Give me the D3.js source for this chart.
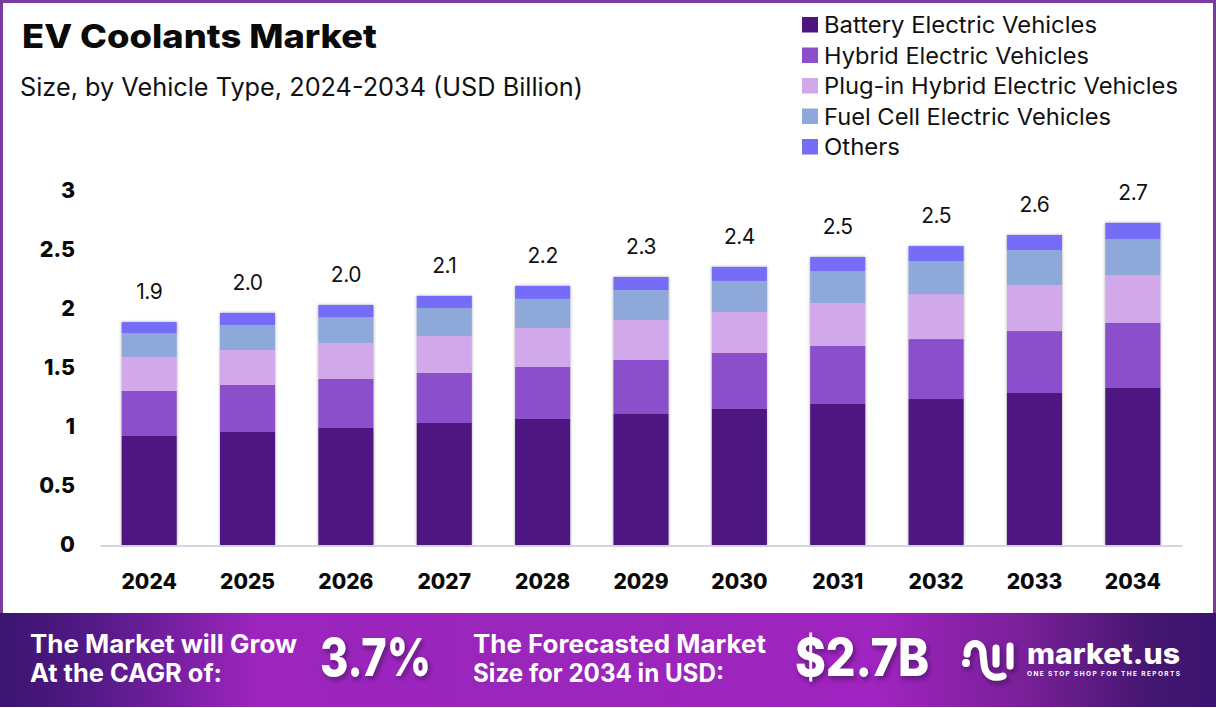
<!DOCTYPE html>
<html><head><meta charset="utf-8">
<script src="https://cdn.jsdelivr.net/npm/d3@7"></script>
<style>
html,body{margin:0;padding:0;background:#fff;overflow:hidden}
svg{display:block}
text{font-family:Inter,"Open Sans",sans-serif}
</style></head><body>
<svg id="c" width="1216" height="708"></svg>
<script>
const years=["2024","2025","2026","2027","2028","2029","2030","2031","2032","2033","2034"];
const seriesNames=["Battery Electric Vehicles","Hybrid Electric Vehicles","Plug-in Hybrid Electric Vehicles","Fuel Cell Electric Vehicles","Others"];
const colors=["#4e1580","#8b4fcb","#d1a8ea","#8ea8da","#746df8"];
const bev=[0.924,0.958,0.992,1.034,1.068,1.110,1.153,1.195,1.237,1.288,1.331];
const hev=[0.381,0.398,0.415,0.424,0.441,0.458,0.475,0.492,0.508,0.525,0.551];
const phev=[0.288,0.297,0.305,0.314,0.331,0.339,0.347,0.364,0.381,0.390,0.407];
const fcev=[0.203,0.212,0.220,0.237,0.246,0.254,0.263,0.271,0.280,0.297,0.305];
const others=[0.093,0.102,0.102,0.102,0.110,0.110,0.119,0.119,0.127,0.127,0.136];
const totalLabels=["1.9","2.0","2.0","2.1","2.2","2.3","2.4","2.5","2.5","2.6","2.7"];
const yTicks=[0,0.5,1,1.5,2,2.5,3];
const seriesValues=[bev,hev,phev,fcev,others];

const svg=d3.select("#c");
const defs=svg.append("defs");
const grad=defs.append("linearGradient").attr("id","band");
[[0,"#3b1470"],[0.08,"#541a88"],[0.21,"#9c25bd"],[0.5,"#9a26bb"],[0.72,"#a024c0"],[0.84,"#7a2099"],[0.95,"#42166f"],[1,"#3b1470"]]
  .forEach(d=>grad.append("stop").attr("offset",d[0]).attr("stop-color",d[1]));
const sh=defs.append("filter").attr("id","barShadow").attr("x","-20%").attr("y","-5%").attr("width","140%").attr("height","110%");
sh.append("feDropShadow").attr("dx",0).attr("dy",0).attr("stdDeviation",1.6).attr("flood-color","#333").attr("flood-opacity",0.45);
const ts=defs.append("filter").attr("id","textShadow").attr("x","-20%").attr("y","-20%").attr("width","140%").attr("height","150%");
ts.append("feDropShadow").attr("dx",2).attr("dy",3).attr("stdDeviation",2.5).attr("flood-color","#2a0a4a").attr("flood-opacity",0.6);

// frame
svg.append("path").attr("d","M1.5,613V1.5H1214.5V613").attr("fill","none").attr("stroke","#7a3a9e").attr("stroke-width",3);

// titles
svg.append("text").attr("x",22).attr("y",48).attr("font-size",33).attr("font-weight",800).attr("fill","#0a0a0a")
  .attr("textLength",355).attr("lengthAdjust","spacingAndGlyphs").text("EV Coolants Market");
svg.append("text").attr("x",20).attr("y",96).attr("font-size",25).attr("font-weight",400).attr("fill","#111")
  .attr("textLength",563).attr("lengthAdjust","spacingAndGlyphs").text("Size, by Vehicle Type, 2024-2034 (USD Billion)");

// legend
const legendWidths=[273,265,354,287,76];
const ly=d3.scalePoint().domain(seriesNames).range([25,147]);
const lg=svg.append("g").selectAll("g").data(seriesNames).join("g").attr("transform",d=>`translate(802,${ly(d)})`);
lg.append("rect").attr("y",-8).attr("width",16).attr("height",15.5).attr("fill",(d,i)=>colors[i]);
lg.append("text").attr("x",22).attr("y",8).attr("font-size",22.5).attr("fill","#111")
  .attr("textLength",(d,i)=>legendWidths[i]).attr("lengthAdjust","spacingAndGlyphs").text(d=>d);

// scales
const x=d3.scaleBand().domain(years).range([100,1182]).paddingInner(0.44).paddingOuter(0.22);
const y=d3.scaleLinear().domain([0,3]).range([545,191]);

// stacks
const rows=years.map((yr,i)=>{const o={year:yr};seriesNames.forEach((s,k)=>o[s]=seriesValues[k][i]);return o;});
const stacked=d3.stack().keys(seriesNames)(rows);
const bars=svg.append("g").attr("filter","url(#barShadow)");
stacked.forEach((layer,k)=>{
  bars.append("g").attr("fill",colors[k]).selectAll("rect").data(layer).join("rect")
    .attr("x",d=>x(d.data.year)).attr("width",x.bandwidth())
    .attr("y",d=>y(d[1])).attr("height",d=>y(d[0])-y(d[1]));
});

// axes
const xAxis=svg.append("g").attr("transform",`translate(0,${y(0)+0.5})`).call(d3.axisBottom(x).tickSize(0).tickPadding(29));
xAxis.select(".domain").attr("stroke","#c9c9d2").attr("stroke-width",1.5);
xAxis.selectAll("text").attr("font-size",21).attr("font-weight",800).attr("fill","#0a0a0a").attr("font-family","Inter");
const yAxis=svg.append("g").attr("transform","translate(75,0)").call(d3.axisLeft(y).tickValues(yTicks).tickFormat(d3.format("")).tickSize(0).tickPadding(0));
yAxis.select(".domain").remove();
yAxis.selectAll("text").attr("font-size",21.5).attr("font-weight",800).attr("fill","#0a0a0a").attr("font-family","Inter");

// totals
const totals=rows.map((r,i)=>d3.sum(seriesValues,s=>s[i]));
svg.append("g").selectAll("text").data(years).join("text")
  .attr("x",d=>x(d)+x.bandwidth()/2).attr("y",(d,i)=>y(totals[i])-23)
  .attr("text-anchor","middle").attr("font-size",21).attr("fill","#111").attr("letter-spacing",-0.5)
  .text((d,i)=>totalLabels[i]);

// banner
svg.append("rect").attr("x",0).attr("y",613).attr("width",1216).attr("height",94).attr("fill","url(#band)");
const bannerText=[
  ["The Market will Grow",30,653,267,25],
  ["At the CAGR of:",30,682,192,25],
  ["The Forecasted Market",473,653,293,25],
  ["Size for 2034 in USD:",473,682,251,25]];
svg.append("g").selectAll("text").data(bannerText).join("text")
  .attr("x",d=>d[1]).attr("y",d=>d[2]).attr("font-size",d=>d[4]).attr("font-weight",700).attr("fill","#fff")
  .attr("textLength",d=>d[3]).attr("lengthAdjust","spacingAndGlyphs").text(d=>d[0]);
svg.append("g").attr("filter","url(#textShadow)").selectAll("text")
  .data([["3.7%",320,111],["$2.7B",795,134]]).join("text")
  .attr("x",d=>d[1]).attr("y",676).attr("font-size",52).attr("font-weight",800).attr("fill","#fff")
  .attr("textLength",d=>d[2]).attr("lengthAdjust","spacingAndGlyphs").text(d=>d[0]);

// logo
const logo=svg.append("g").attr("filter","url(#textShadow)");
logo.append("circle").attr("cx",966).attr("cy",663).attr("r",4).attr("fill","#fff");
logo.append("path").attr("d","M967,654 C967,640 983,640 983,654 L984,664 C985,677 995,679 1003,676 M996,648 V664 M1010,646 V666")
  .attr("fill","none").attr("stroke","#fff").attr("stroke-width",7).attr("stroke-linecap","round");
svg.append("text").attr("x",1027).attr("y",664).attr("font-size",28).attr("font-weight",800).attr("fill","#fff")
  .attr("textLength",153).attr("lengthAdjust","spacingAndGlyphs").text("market.us");
svg.append("text").attr("x",1027).attr("y",676).attr("font-size",6.5).attr("font-weight",700).attr("fill","#fff")
  .attr("textLength",153).attr("lengthAdjust","spacing").text("ONE STOP SHOP FOR THE REPORTS");
</script>
</body></html>
